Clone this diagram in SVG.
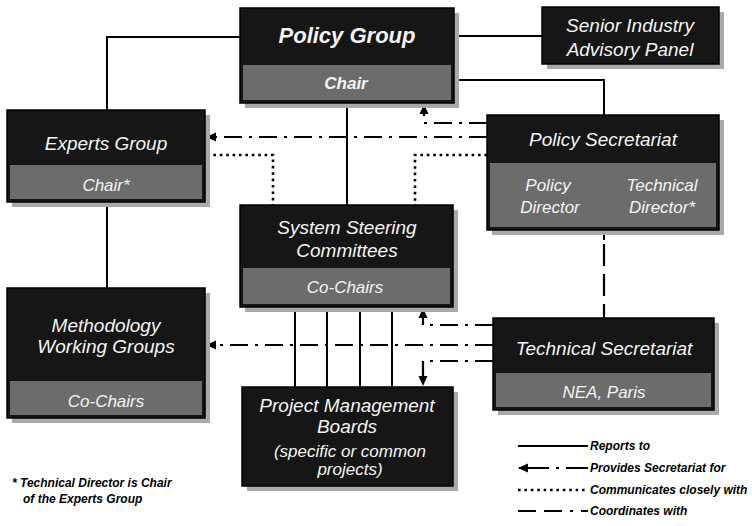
<svg xmlns="http://www.w3.org/2000/svg" width="752" height="526" viewBox="0 0 752 526">
<style>
.box{fill:#161616;stroke:#000;stroke-width:1.5}
.band{fill:#6c6c6c}
.shadow{fill:#a9a9a9}
.t{font-family:"Liberation Sans",Arial,sans-serif;font-style:italic;fill:#f4f4f4;text-anchor:middle}
.big{font-size:22px;font-weight:bold}
.m{font-size:19px}
.s{font-size:17px}
.b{font-weight:bold}
.lg{font-family:"Liberation Sans",Arial,sans-serif;font-style:italic;font-weight:bold;font-size:12px;fill:#000}
.solid{fill:none;stroke:#000;stroke-width:2}
.prov{fill:none;stroke:#000;stroke-width:2.2;stroke-dasharray:18 7 3 7}
.dot{fill:none;stroke:#000;stroke-width:2.6;stroke-dasharray:2.6 3.8}
.coord{fill:none;stroke:#000;stroke-width:2.2;stroke-dasharray:22 8}
</style>
<defs>
<marker id="ah" markerUnits="userSpaceOnUse" markerWidth="10" markerHeight="10" viewBox="0 0 10 10" refX="9" refY="5" orient="auto">
<path d="M0,0.5 L10,5 L0,9.5 Z" fill="#000"/>
</marker>
</defs>
<rect width="752" height="526" fill="#fff"/>

<g id="connectors">
<path class="solid" d="M240,37 H107 V110"/>
<path class="solid" d="M107,202 V288"/>
<path class="solid" d="M454,36 H542"/>
<path class="solid" d="M454,80 H604 V115"/>
<path class="solid" d="M347,103 V205"/>
<path class="solid" d="M295,307 V387 M327,307 V387 M360,307 V387 M392,307 V387"/>
<path class="prov" d="M487,123 H424 V105" marker-end="url(#ah)"/>
<path class="prov" d="M487,137 H207" marker-end="url(#ah)"/>
<path class="dot" d="M207,155 H273 V205"/>
<path class="dot" d="M487,155 H415 V205"/>
<path class="solid" d="M604,230 V240"/>
<path class="coord" d="M604,244 V318"/>
<path class="prov" d="M493,325 H423 V309" marker-end="url(#ah)"/>
<path class="prov" d="M493,345 H207" marker-end="url(#ah)"/>
<path class="prov" d="M493,361 H423 V385" marker-end="url(#ah)"/>
</g>

<g id="policy-group">
<rect class="shadow" x="245" y="13" width="214" height="95"/>
<rect class="box" x="240" y="8" width="214" height="95"/>
<rect class="band" x="243" y="65" width="208" height="35"/>
<text class="t big" x="347" y="43">Policy Group</text>
<text class="t s b" x="346" y="89">Chair</text>
</g>

<g id="senior-industry-advisory-panel">
<rect class="shadow" x="547" y="12" width="177" height="57"/>
<rect class="box" x="542" y="7" width="177" height="57"/>
<text class="t m" x="630" y="32">Senior Industry</text>
<text class="t m" x="630" y="56">Advisory Panel</text>
</g>

<g id="experts-group">
<rect class="shadow" x="12" y="115" width="198" height="92"/>
<rect class="box" x="7" y="110" width="198" height="92"/>
<rect class="band" x="10" y="165" width="192" height="34"/>
<text class="t m" x="106" y="150">Experts Group</text>
<text class="t s" x="106" y="191">Chair*</text>
</g>

<g id="policy-secretariat">
<rect class="shadow" x="492" y="120" width="232" height="115"/>
<rect class="box" x="487" y="115" width="232" height="115"/>
<rect class="band" x="490" y="163" width="226" height="64"/>
<text class="t m" x="603" y="146">Policy Secretariat</text>
<text class="t s" x="548" y="191">Policy</text>
<text class="t s" x="550" y="213">Director</text>
<text class="t s" x="662" y="191">Technical</text>
<text class="t s" x="662" y="213">Director*</text>
</g>

<g id="system-steering-committees">
<rect class="shadow" x="245" y="210" width="213" height="102"/>
<rect class="box" x="240" y="205" width="213" height="102"/>
<rect class="band" x="243" y="268" width="207" height="36"/>
<text class="t m" x="347" y="234">System Steering</text>
<text class="t m" x="347" y="257">Committees</text>
<text class="t s" x="345" y="293">Co-Chairs</text>
</g>

<g id="methodology-working-groups">
<rect class="shadow" x="12" y="293" width="198" height="130"/>
<rect class="box" x="7" y="288" width="198" height="130"/>
<rect class="band" x="10" y="381" width="192" height="34"/>
<text class="t m" x="106" y="332">Methodology</text>
<text class="t m" x="106" y="353">Working Groups</text>
<text class="t s" x="106" y="407">Co-Chairs</text>
</g>

<g id="technical-secretariat">
<rect class="shadow" x="498" y="323" width="221" height="92"/>
<rect class="box" x="493" y="318" width="221" height="92"/>
<rect class="band" x="496" y="373" width="215" height="34"/>
<text class="t m" x="604" y="355">Technical Secretariat</text>
<text class="t s" x="604" y="398">NEA, Paris</text>
</g>

<g id="project-management-boards">
<rect class="shadow" x="247" y="392" width="211" height="99"/>
<rect class="box" x="242" y="387" width="211" height="99"/>
<text class="t m" x="347" y="412">Project Management</text>
<text class="t m" x="347" y="433">Boards</text>
<text class="t s" x="350" y="457">(specific or common</text>
<text class="t s" x="350" y="475">projects)</text>
</g>

<g id="legend">
<path class="solid" d="M518,446 H588"/>
<path fill="none" stroke="#000" stroke-width="2.2" stroke-dasharray="22 7 3 7" d="M588,468 H519" marker-end="url(#ah)"/>
<path class="dot" d="M518,490 H588"/>
<path fill="none" stroke="#000" stroke-width="2.2" stroke-dasharray="18 8 18 8 3 8" d="M518,511 H588"/>
<text class="lg" x="590" y="450">Reports to</text>
<text class="lg" x="590" y="472">Provides Secretariat for</text>
<text class="lg" x="590" y="494">Communicates closely with</text>
<text class="lg" x="590" y="515">Coordinates with</text>
</g>

<g id="footnote">
<text class="lg" x="12" y="487">* Technical Director is Chair</text>
<text class="lg" x="23" y="503">of the Experts Group</text>
</g>
</svg>
